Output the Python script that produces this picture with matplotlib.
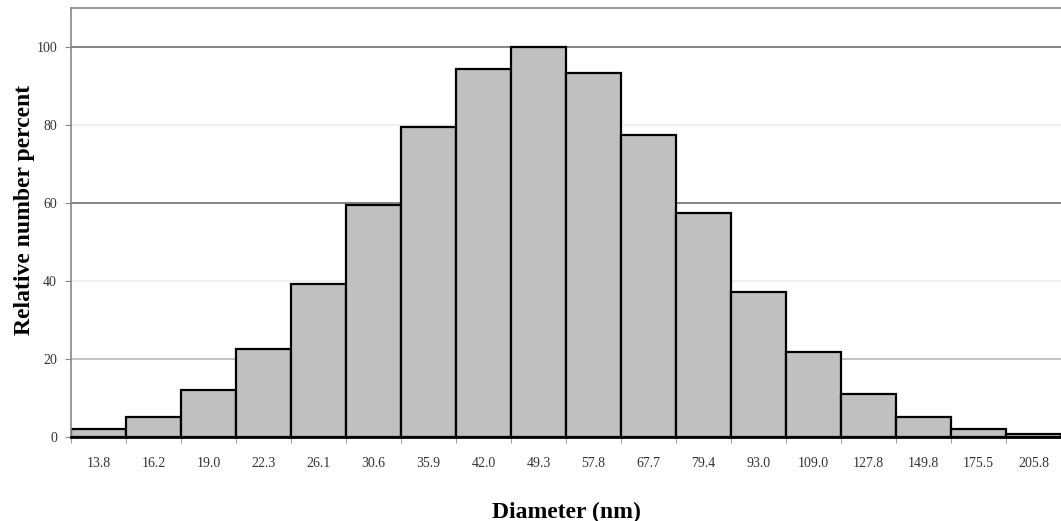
import numpy as np
import matplotlib.pyplot as plt

# diametres (nm) et pourcentages relatifs
diametres = ["13.8", "16.2", "19.0", "22.3", "26.1", "30.6", "35.9", "42.0", "49.3",
             "57.8", "67.7", "79.4", "93.0", "109.0", "127.8", "149.8", "175.5", "205.8"]
pourcentages = [2.0, 5.1, 12.0, 22.6, 39.3, 59.5, 79.5, 94.4, 100.0,
                93.3, 77.4, 57.4, 37.2, 21.8, 11.0, 5.1, 2.0, 0.8]
graduations_y = [0, 20, 40, 60, 80, 100]

plt.rcParams['font.family'] = ['Liberation Serif', 'DejaVu Serif']

fig = plt.figure(figsize=(10.61, 5.21), dpi=100)
ax = fig.add_axes([0.0669, 0.161, 0.9331, 0.8234])

x = np.arange(len(diametres))

# lignes de grille (certaines sont plus pâles sur l'original)
couleurs_grille = {20: '#b8b8b8', 40: '#ececec', 60: '#707070', 80: '#eeeeee', 100: '#707070'}
for val, c in couleurs_grille.items():
    ax.axhline(val, color=c, linewidth=1.2, zorder=0)

ax.bar(x, pourcentages, width=1.0, color='#c0c0c0', edgecolor='black', linewidth=1.6, zorder=2)

ax.set_xlim(-0.5, len(diametres) - 0.5)
ax.set_ylim(0, 110)

ax.set_xticks(x)
ax.set_xticklabels(diametres, fontsize=10)
ax.set_xticks(np.arange(len(diametres) + 1) - 0.5, minor=True)
ax.tick_params(axis='x', which='major', length=0, pad=14, colors='#333333')
ax.tick_params(axis='x', which='minor', length=4, color='#888888')

ax.set_yticks(graduations_y)
ax.tick_params(axis='y', length=4, color='#888888', labelsize=10, pad=6, labelcolor='#333333')

for s in ['top', 'left', 'right']:
    ax.spines[s].set_color('#888888')
    ax.spines[s].set_linewidth(1.2)
ax.spines['right'].set_visible(False)
ax.spines['bottom'].set_color('black')
ax.spines['bottom'].set_linewidth(2)
ax.spines['bottom'].set_zorder(3)

ax.set_xlabel('Diameter (nm)', fontsize=17, fontweight='bold')
ax.set_ylabel('Relative number percent', fontsize=17, fontweight='bold')
ax.xaxis.set_label_coords(0.5, -0.151)
ax.yaxis.set_label_coords(-0.036, 0.529)

plt.savefig("out.png", dpi=100)
